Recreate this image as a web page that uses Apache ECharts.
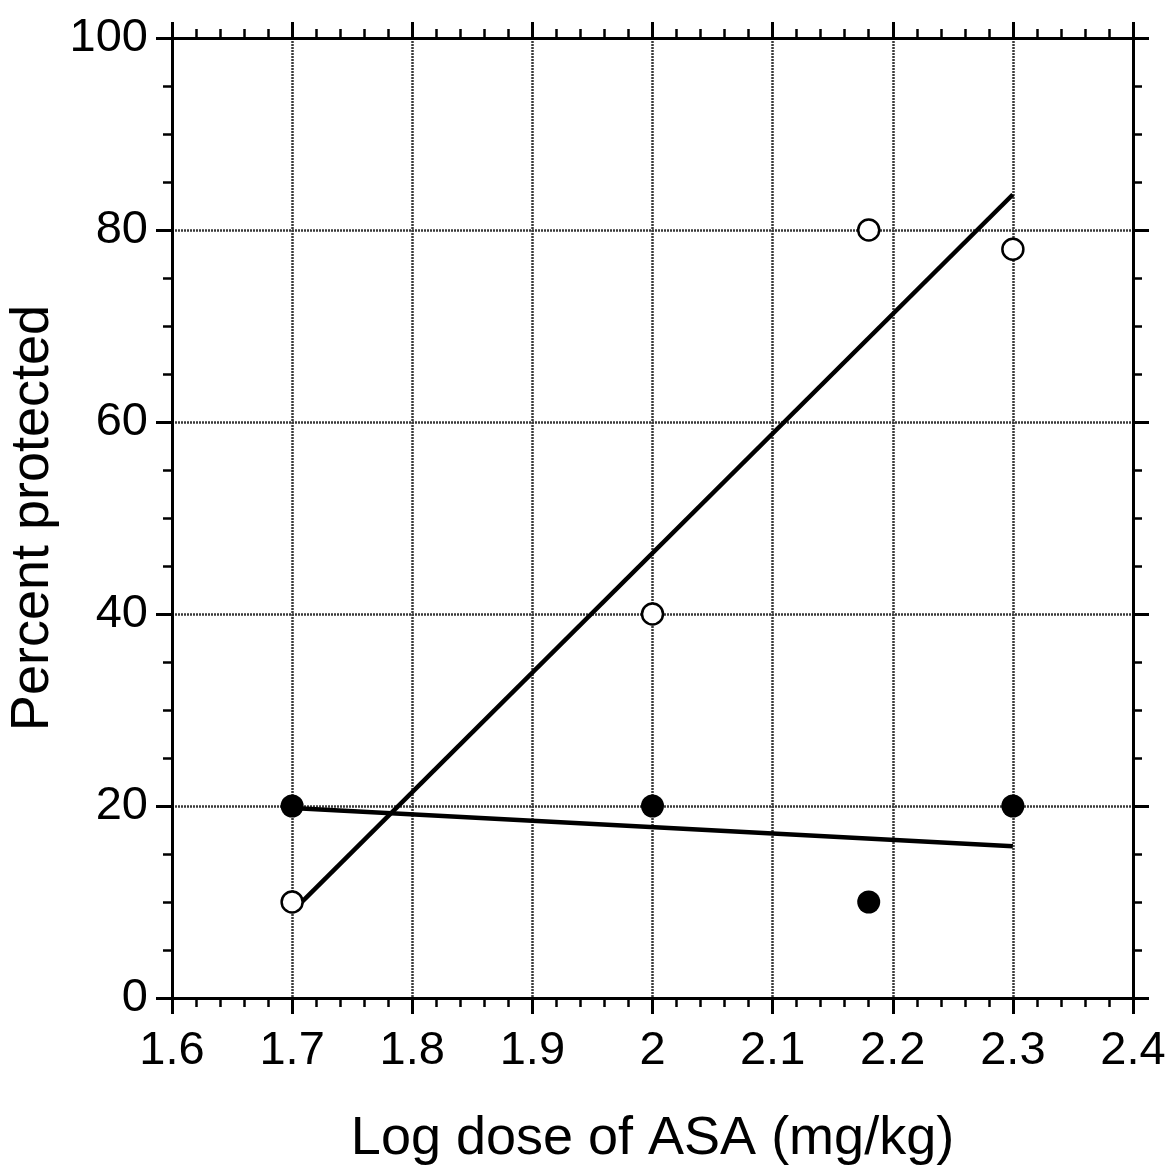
<!DOCTYPE html>
<html>
<head>
<meta charset="utf-8">
<script src="https://cdn.jsdelivr.net/npm/echarts@6/dist/echarts.min.js"></script>
<style>
  html, body { margin: 0; padding: 0; background: #fff; }
  #chart { width: 1173px; height: 1175px; }
</style>
</head>
<body>
<div id="chart"></div>
<script>
// data
var openPoints = [[1.7, 10], [2.0, 40], [2.18, 80], [2.3, 78]];
var filledPoints = [[1.7, 20], [2.0, 20], [2.18, 10], [2.3, 20]];
var openFit = [[1.7, 9.0], [2.3, 83.7]];
var filledFit = [[1.7, 19.8], [2.3, 15.8]];

var xMin = 1.6, xMax = 2.4, xStep = 0.1;
var yMin = 0, yMax = 100, yStep = 20;

var font = 'Liberation Sans, Arial, sans-serif';
var axisLine = { show: true, onZero: false, lineStyle: { color: '#000', width: 3 } };
var grid = { type: [2, 1], color: '#3a3a3a', width: 2.5 };

var chart = echarts.init(document.getElementById('chart'));

function xAx(pos, main) {
  return {
    type: 'value', position: pos, min: xMin, max: xMax, interval: xStep,
    axisLine: axisLine,
    axisTick: { show: true, inside: false, length: 16, lineStyle: { color: '#000', width: 3 } },
    minorTick: { show: true, splitNumber: 5, length: 9, lineStyle: { color: '#000', width: 2.5 } },
    axisLabel: {
      show: main, margin: 30, color: '#000', fontSize: 47, fontFamily: font,
      formatter: function (v) { return +v.toFixed(1) + ''; }
    },
    splitLine: { show: main, lineStyle: grid },
    name: main ? 'Log dose of ASA (mg/kg)' : '',
    nameLocation: 'middle', nameGap: 114,
    nameTextStyle: { color: '#000', fontSize: 54, fontFamily: font }
  };
}

function yAx(pos, main) {
  return {
    type: 'value', position: pos, min: yMin, max: yMax, interval: yStep,
    axisLine: axisLine,
    axisTick: { show: true, inside: false, length: 16, lineStyle: { color: '#000', width: 3 } },
    minorTick: { show: true, splitNumber: 4, length: 9, lineStyle: { color: '#000', width: 2.5 } },
    axisLabel: { show: main, margin: 24, color: '#000', fontSize: 47, fontFamily: font },
    splitLine: { show: main, lineStyle: grid },
    name: main ? 'Percent protected' : '',
    nameLocation: 'middle', nameGap: 112, nameMoveOverlap: false,
    nameTextStyle: { color: '#000', fontSize: 54, fontFamily: font }
  };
}

chart.setOption({
  animation: false,
  backgroundColor: '#fff',
  grid: { left: 172, right: 40, top: 38, bottom: 177, containLabel: false, outerBoundsMode: 'none' },
  xAxis: [xAx('bottom', true), xAx('top', false)],
  yAxis: [yAx('left', true), yAx('right', false)],
  series: [
    {
      type: 'line', data: openFit, symbol: 'none', z: 3,
      lineStyle: { color: '#000', width: 4.5 }
    },
    {
      type: 'line', data: filledFit, symbol: 'none', z: 3,
      lineStyle: { color: '#000', width: 4.5 }
    },
    {
      type: 'scatter', data: openPoints, symbol: 'circle', symbolSize: 21, z: 5,
      itemStyle: { color: '#fff', borderColor: '#000', borderWidth: 2.5, opacity: 1 }
    },
    {
      type: 'scatter', data: filledPoints, symbol: 'circle', symbolSize: 23, z: 5,
      itemStyle: { color: '#000', opacity: 1 }
    }
  ]
});
</script>
</body>
</html>
